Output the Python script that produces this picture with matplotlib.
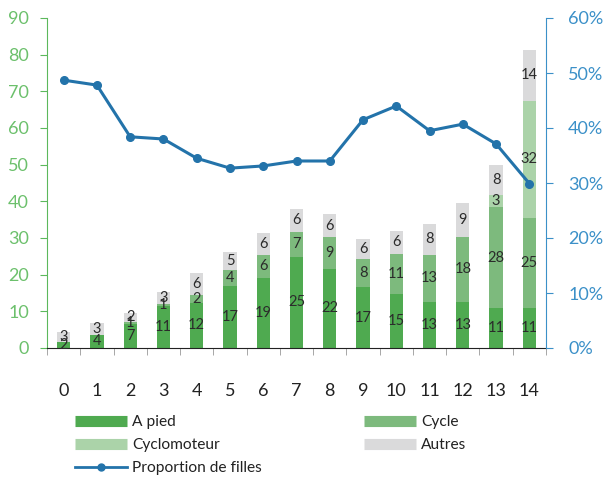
import matplotlib
matplotlib.use("Agg")
import matplotlib.pyplot as plt
from matplotlib.lines import Line2D
import numpy as np

plt.rcParams['font.family'] = ['Lato', 'DejaVu Sans']

ages = list(range(15))
a_pied = [1.6, 3.6, 6.6, 11.4, 12.3, 16.9, 19.2, 24.9, 21.6, 16.6, 14.6, 12.6, 12.6, 10.8, 10.8]
cycle = [0.0, 0.0, 0.6, 0.6, 2.2, 4.4, 6.2, 6.8, 8.6, 7.6, 11.1, 12.9, 17.8, 27.6, 24.6]
cyclomoteur = [0, 0, 0, 0, 0, 0, 0, 0, 0, 0, 0, 0, 0, 3.2, 32.1]
autres = [2.7, 3.1, 2.4, 3.3, 5.9, 5.0, 6.1, 6.3, 6.4, 5.6, 6.2, 8.3, 9.2, 8.3, 13.7]
prop_filles = [48.7, 47.8, 38.4, 38.0, 34.5, 32.7, 33.1, 34.0, 34.0, 41.5, 44.0, 39.5, 40.7, 37.1, 29.9]

series = [("A pied", a_pied, "#4faa50"),
          ("Cycle", cycle, "#7dba7d"),
          ("Cyclomoteur", cyclomoteur, "#abd3a9"),
          ("Autres", autres, "#dadadb")]

fig = plt.figure(figsize=(6.03, 4.80), dpi=100)
ax = fig.add_axes([47/603, 1-348/480, (546-47)/603, (348-18)/480])
x = np.arange(len(ages))
bottom = np.zeros(len(ages))
for name, vals, col in series:
    v = np.array(vals, dtype=float)
    ax.bar(x, v, 0.4, bottom=bottom, color=col, edgecolor='none', zorder=2)
    for xi, vi, bi in zip(x, v, bottom):
        if vi >= 0.5:
            ax.text(xi, bi + vi/2, f"{int(round(vi))}", ha='center', va='center',
                    fontsize=10.5, color='#2b2b2b', zorder=3)
    bottom += v

ax.set_xlim(-0.5, 14.5)
ax.set_ylim(0, 90)
ax.set_yticks(range(0, 91, 10))
green_ax = '#5cb85c'
green_lbl = '#6cc06c'
ax.spines['left'].set_color(green_ax)
ax.spines['top'].set_visible(False)
ax.spines['right'].set_visible(False)
ax.spines['bottom'].set_color('#222222')
ax.tick_params(axis='y', colors=green_ax, labelcolor=green_lbl, labelsize=13, length=5, direction='out', pad=8)
ax.set_xticks(x)
ax.set_xticklabels([str(a) for a in ages])
ax.set_xticks(np.arange(-0.5, 15, 1), minor=True)
ax.tick_params(axis='x', which='major', length=0, pad=25, labelsize=13, labelcolor='#222222')
ax.tick_params(axis='x', which='minor', length=5, color='#999999', direction='out')

ax2 = ax.twinx()
ax2.set_ylim(0, 60)
ax2.set_yticks(range(0, 61, 10))
ax2.set_yticklabels([f"{t}%" for t in range(0, 61, 10)])
blue_ax = '#3b90c8'
ax2.spines['right'].set_color(blue_ax)
for s in ['left', 'top', 'bottom']:
    ax2.spines[s].set_visible(False)
ax2.tick_params(axis='y', colors=blue_ax, labelcolor=blue_ax, labelsize=13, length=5, pad=11)
line_col = '#2373aa'
ax2.plot(x, prop_filles, color=line_col, lw=2.2, marker='o', ms=5.5, zorder=5)

handles = [Line2D([], [], color=series[0][2], lw=8, solid_capstyle='butt'),
           Line2D([], [], color=series[2][2], lw=8, solid_capstyle='butt'),
           Line2D([], [], color=line_col, lw=2, marker='o', ms=5),
           Line2D([], [], color=series[1][2], lw=8, solid_capstyle='butt'),
           Line2D([], [], color=series[3][2], lw=8, solid_capstyle='butt')]
labels = ["A pied", "Cyclomoteur", "Proportion de filles", "Cycle", "Autres"]
fig.legend(handles, labels, ncol=2, loc='upper left', bbox_to_anchor=(61/603, 1-401/480),
           frameon=False, fontsize=11.2, handlelength=3.35, handletextpad=0.3,
           columnspacing=6.6, labelspacing=0.58, labelcolor='#222222')

fig.savefig("out.png", dpi=100)
